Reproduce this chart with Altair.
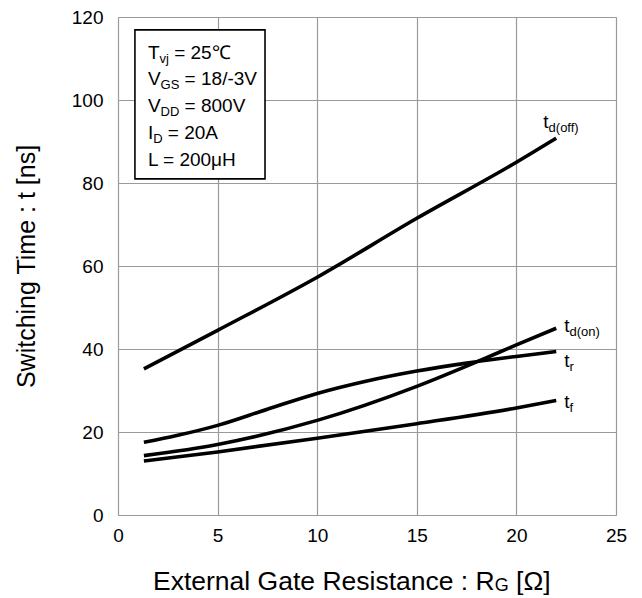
import altair as alt
import pandas as pd

# ---- curve data ----
rg_doff = [1.3, 5, 10, 15, 20, 22]
t_doff = [35.2, 44.5, 57.3, 71.5, 85.0, 90.8]
rg_don = [1.3, 5, 10, 15, 18.3, 20, 22]
t_don = [14.3, 17.0, 22.8, 31.0, 37.5, 41.0, 45.0]
rg_r = [1.3, 3, 5, 7.5, 10, 12.5, 15, 17.5, 20, 22]
t_r = [17.5, 19.2, 21.6, 25.5, 29.3, 32.3, 34.7, 36.6, 38.2, 39.4]
rg_f = [1.3, 5, 10, 15, 20, 22]
t_f = [13.0, 15.2, 18.5, 22.0, 25.8, 27.6]

x_ticks = [0, 5, 10, 15, 20, 25]
y_ticks = [0, 20, 40, 60, 80, 100, 120]

# ---- annotation text (a leading space is given as a gap before the piece) ----
legend_main = ["T", "V", "V", "I", "L = 200μH"]
legend_sub = ["vj", "GS", "DD", "D", ""]
legend_rest = ["= 25℃", "= 18/-3V", "= 800V", "= 20A", ""]
legend_y = [109.9, 103.5, 97.0, 90.5, 84.1]
legend_x0 = 1.5
box = dict(x=0.85, x2=7.38, y=116.9, y2=81.0)

curve_sub = ["d(off)", "d(on)", "r", "f"]
curve_lx = [21.35, 22.4, 22.4, 22.4]
curve_ly = [93.2, 44.2, 35.6, 25.9]

xtitle_main = "External Gate Resistance : R"
xtitle_sub = "G"
xtitle_rest = "[Ω]"
xtitle_center = 11.75
xtitle_y = -18.0

FONT = "Liberation Sans"
MAIN_FS, SUB_FS, TITLE_FS, TSUB_FS = 19, 13, 26.5, 18
PX = 25 / 498  # data units of x per pixel

# Arial-metric advance widths (per 1000 em) used to place text pieces
AW = {'T': 611, 'V': 667, 'I': 278, 't': 278, 'v': 500, 'j': 222, 'G': 778,
      'S': 667, 'D': 722, 'E': 667, 'x': 500, 'e': 556, 'r': 333, 'n': 556,
      'a': 556, 'l': 222, ' ': 278, 'R': 722, 's': 500, 'i': 222, 'c': 500,
      ':': 278, '[': 278, ']': 278, 'Ω': 768}


def width(s, fs):
    return sum(AW.get(c, 556) for c in s) * fs / 1000 * PX


main_rows, sub_rows = [], []
for m, s, r, y in zip(legend_main, legend_sub, legend_rest, legend_y):
    main_rows.append(dict(text=m, x=legend_x0, y=y))
    xs = legend_x0 + width(m, MAIN_FS)
    if s:
        sub_rows.append(dict(text=s, x=xs, y=y))
    if r:
        main_rows.append(dict(text=r, x=xs + width(s, SUB_FS) + width(" ", MAIN_FS), y=y))
for s, x, y in zip(curve_sub, curve_lx, curve_ly):
    main_rows.append(dict(text="t", x=x, y=y))
    sub_rows.append(dict(text=s, x=x + width("t", MAIN_FS), y=y))

tw = (width(xtitle_main, TITLE_FS) + width(xtitle_sub, TSUB_FS)
      + width(" " + xtitle_rest, TITLE_FS))
tx0 = xtitle_center - tw / 2
title_rows = [dict(text=xtitle_main, x=tx0, y=xtitle_y),
              dict(text=xtitle_rest,
                   x=tx0 + width(xtitle_main + " ", TITLE_FS) + width(xtitle_sub, TSUB_FS),
                   y=xtitle_y)]
tsub_rows = [dict(text=xtitle_sub, x=tx0 + width(xtitle_main, TITLE_FS), y=xtitle_y)]

curves = pd.concat([
    pd.DataFrame({"rg": rg_doff, "t": t_doff, "s": "td(off)"}),
    pd.DataFrame({"rg": rg_don, "t": t_don, "s": "td(on)"}),
    pd.DataFrame({"rg": rg_r, "t": t_r, "s": "tr"}),
    pd.DataFrame({"rg": rg_f, "t": t_f, "s": "tf"}),
])

xs = alt.Scale(domain=[0, 25], nice=False, zero=False)
ys = alt.Scale(domain=[0, 120], nice=False, zero=False)

X = alt.X("rg:Q", scale=xs, axis=alt.Axis(values=x_ticks, title=None, labelFontSize=MAIN_FS,
                                          labelFont=FONT, labelColor="black", labelPadding=11,
                                          ticks=False, domain=False, gridColor="#9a9a9a",
                                          gridWidth=1.2, labelFlush=False))
Y = alt.Y("t:Q", scale=ys, axis=alt.Axis(values=y_ticks, title="Switching Time : t [ns]",
                                         titleFontSize=25, titleFont=FONT, titleFontWeight="normal",
                                         titleColor="black", titlePadding=32,
                                         labelFontSize=MAIN_FS, labelFont=FONT, labelColor="black",
                                         labelPadding=15, ticks=False, domain=False,
                                         gridColor="#9a9a9a", gridWidth=1.2, labelFlush=False))

lines = alt.Chart(curves).mark_line(color="black", strokeWidth=3.6, interpolate="monotone",
                                    strokeCap="butt").encode(x=X, y=Y, detail="s:N")

box_df = pd.DataFrame([box])
rect = alt.Chart(box_df).mark_rect(fill="white", stroke="black", strokeWidth=1.6).encode(
    x=alt.X("x:Q", scale=xs), x2="x2:Q", y=alt.Y("y:Q", scale=ys), y2="y2:Q")


def text_layer(rows, fs, dy=0):
    return alt.Chart(pd.DataFrame(rows)).mark_text(
        align="left", baseline="alphabetic", font=FONT, fontSize=fs, color="black", dy=dy
    ).encode(x=alt.X("x:Q", scale=xs), y=alt.Y("y:Q", scale=ys), text="text:N")


chart = alt.layer(
    lines, rect,
    text_layer(main_rows, MAIN_FS),
    text_layer(sub_rows, SUB_FS, dy=4),
    text_layer(title_rows, TITLE_FS),
    text_layer(tsub_rows, TSUB_FS, dy=1),
).properties(
    width=498, height=498,
    autosize=alt.AutoSizeParams(type="none"),
    padding={"left": 110, "top": 9, "right": 18, "bottom": 83},
).configure_view(stroke="black", strokeWidth=2.2).configure(background="white")

chart.save("out.html", embed_options={"renderer": "svg", "actions": False})
